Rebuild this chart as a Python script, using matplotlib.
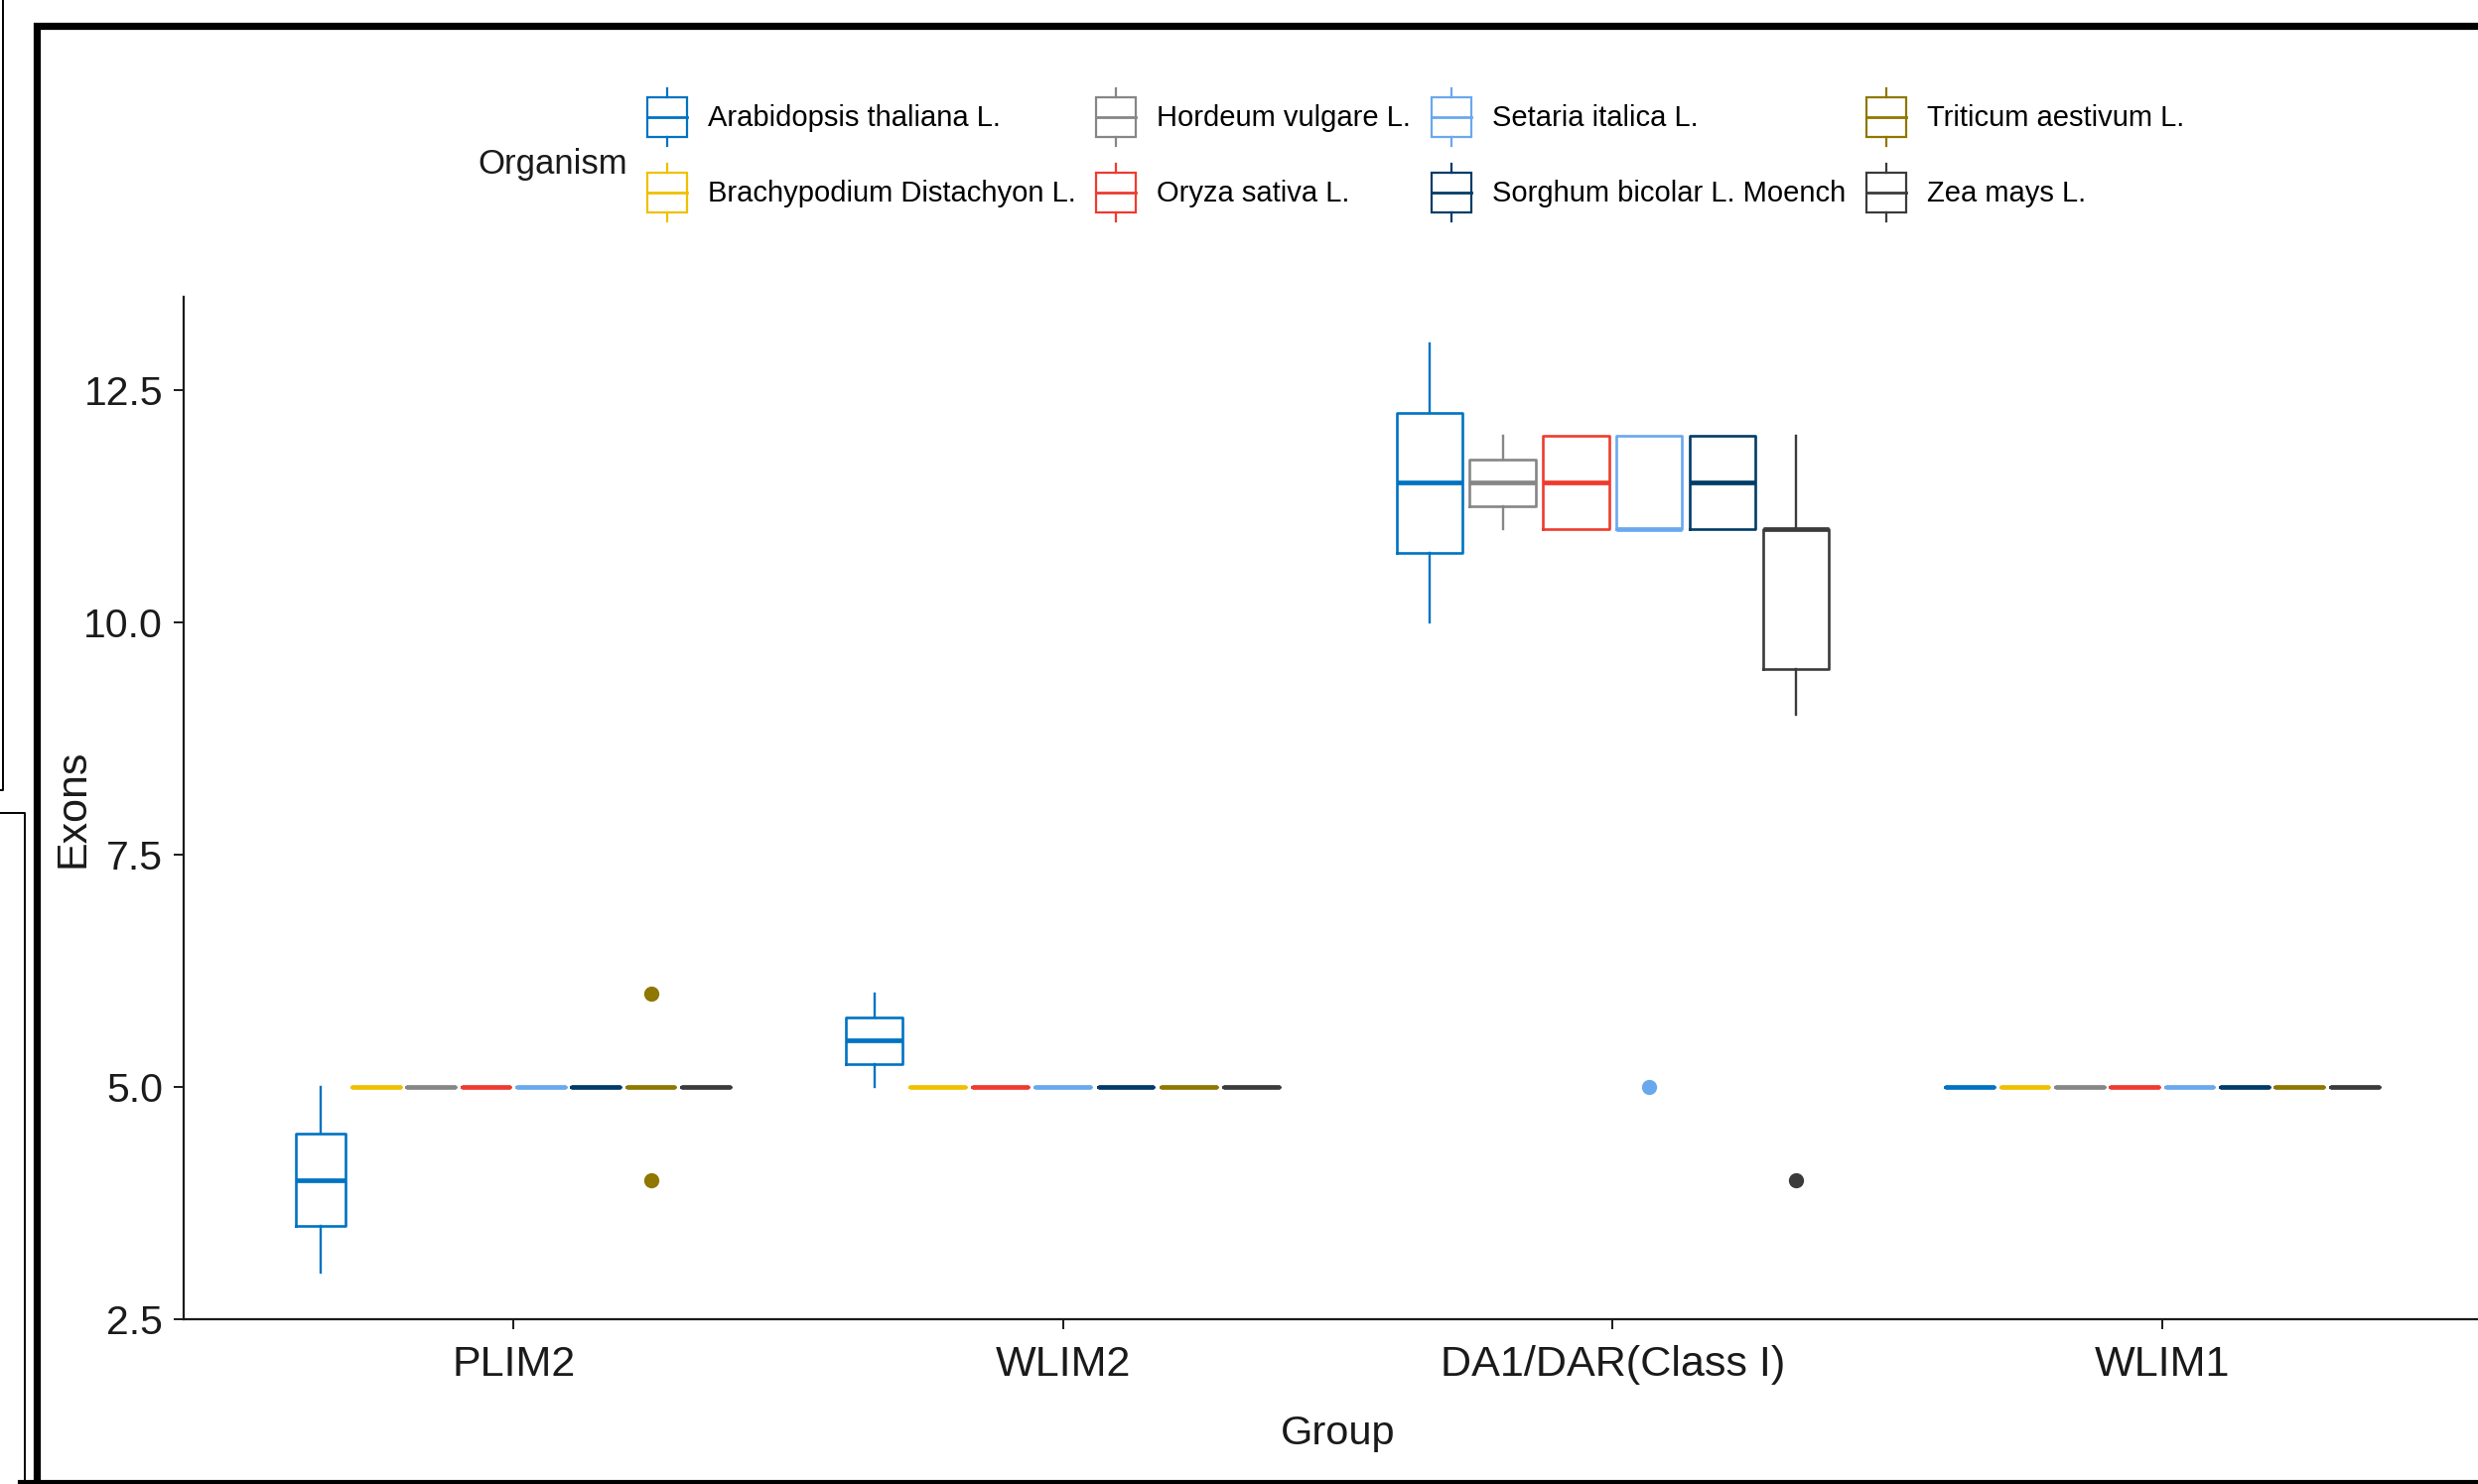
"""
Exon counts per gene group, box plots dodged by organism.
"""
import os
import matplotlib
matplotlib.use('Agg')
import matplotlib.pyplot as plt
from matplotlib import font_manager as fm
from matplotlib.textpath import TextPath
from matplotlib.legend_handler import HandlerBase
from matplotlib.patches import Rectangle, Patch
from matplotlib.lines import Line2D

W, H = 2496, 1495

groups = ['PLIM2', 'WLIM2', 'DA1/DAR(Class I)', 'WLIM1']
organisms = ['Arabidopsis thaliana L.', 'Brachypodium Distachyon L.',
             'Hordeum vulgare L.', 'Oryza sativa L.', 'Setaria italica L.',
             'Sorghum bicolar L. Moench', 'Triticum aestivum L.', 'Zea mays L.']
colors = ['#0073C2', '#EFC000', '#868686', '#EE3B2F',
          '#6AA8EE', '#003C67', '#8F7700', '#3B3B3B']

# (whisker low, q1, median, q3, whisker high) for organisms present in the group
plim2 = {
    'Arabidopsis thaliana L.': (3, 3.5, 4, 4.5, 5),
    'Brachypodium Distachyon L.': (5, 5, 5, 5, 5),
    'Hordeum vulgare L.': (5, 5, 5, 5, 5),
    'Oryza sativa L.': (5, 5, 5, 5, 5),
    'Setaria italica L.': (5, 5, 5, 5, 5),
    'Sorghum bicolar L. Moench': (5, 5, 5, 5, 5),
    'Triticum aestivum L.': (5, 5, 5, 5, 5),
    'Zea mays L.': (5, 5, 5, 5, 5),
}
wlim2 = {
    'Arabidopsis thaliana L.': (5, 5.25, 5.5, 5.75, 6),
    'Brachypodium Distachyon L.': (5, 5, 5, 5, 5),
    'Oryza sativa L.': (5, 5, 5, 5, 5),
    'Setaria italica L.': (5, 5, 5, 5, 5),
    'Sorghum bicolar L. Moench': (5, 5, 5, 5, 5),
    'Triticum aestivum L.': (5, 5, 5, 5, 5),
    'Zea mays L.': (5, 5, 5, 5, 5),
}
da1 = {
    'Arabidopsis thaliana L.': (10, 10.75, 11.5, 12.25, 13),
    'Hordeum vulgare L.': (11, 11.25, 11.5, 11.75, 12),
    'Oryza sativa L.': (11, 11, 11.5, 12, 12),
    'Setaria italica L.': (11, 11, 11, 12, 12),
    'Sorghum bicolar L. Moench': (11, 11, 11.5, 12, 12),
    'Zea mays L.': (9, 9.5, 11, 11, 12),
}
wlim1 = {org: (5, 5, 5, 5, 5) for org in organisms}

# outlier points
plim2_out = {'Triticum aestivum L.': [6, 4]}
wlim2_out = {}
da1_out = {'Setaria italica L.': [5], 'Zea mays L.': [4]}
wlim1_out = {}

group_stats = [plim2, wlim2, da1, wlim1]
group_out = [plim2_out, wlim2_out, da1_out, wlim1_out]


def pick_narrow_font():
    """Look for a condensed sans face; fall back to Liberation Sans."""
    files = {os.path.basename(f.fname): f.fname for f in fm.fontManager.ttflist}
    for name in ['LiberationSansNarrow-Regular.ttf', 'NotoSans-ExtraCondensed.ttf',
                 'NotoSans-Condensed.ttf', 'NotoSans-SemiCondensed.ttf']:
        if name in files:
            return fm.FontProperties(fname=files[name])
    return fm.FontProperties(family='Liberation Sans')


NARROW = pick_narrow_font()
REGULAR = fm.FontProperties(family='Liberation Sans')


def text_px(text, prop, size):
    w100 = TextPath((0, 0), text, size=100, prop=prop).get_extents().width
    return w100 / 100 * size * 100 / 72


def fit_size(text, target_px, cap_px, prop):
    """Compromise between the size matching the width and the cap height."""
    by_width = target_px / text_px(text, prop, 1)
    return (by_width * cap_px) ** 0.5


def sized(prop, size):
    p = prop.copy()
    p.set_size(size)
    return p


xtick_size = fit_size('PLIM2', 97, 38, NARROW)
ytick_size = fit_size('12.5', 60, 37, NARROW)
xlab_size = fit_size('Group', 90, 37, NARROW)
title_size = min(147 / text_px('Organism', NARROW, 1), 40)
leg_size = min(292 / text_px('Arabidopsis thaliana L.', NARROW, 1), 33)


class HandlerBox(HandlerBase):
    """Small boxplot glyph for the legend keys."""
    def create_artists(self, legend, orig_handle, xdescent, ydescent,
                       width, height, fontsize, trans):
        c = orig_handle.get_edgecolor()
        x0, y0 = -xdescent, -ydescent
        bh = 0.69 * height
        by = y0 + (height - bh) / 2
        xm = x0 + width / 2
        box = Rectangle((x0, by), width, bh, facecolor='white',
                        edgecolor=c, lw=1.6, transform=trans)
        med = Line2D([x0, x0 + width], [y0 + height / 2] * 2, color=c,
                     lw=2.0, transform=trans)
        w1 = Line2D([xm, xm], [y0, by], color=c, lw=1.6, transform=trans)
        w2 = Line2D([xm, xm], [by + bh, y0 + height], color=c, lw=1.6,
                    transform=trans)
        return [box, med, w1, w2]


def fx(x):
    return x / W


def fy(y):
    return 1 - y / H


fig = plt.figure(figsize=(W / 100, H / 100), dpi=100)
ax = fig.add_axes([fx(185), fy(1329), (2510 - 185) / W, (1329 - 299) / H])

for gi, (stats, outs) in enumerate(zip(group_stats, group_out)):
    present = [o for o in organisms if o in stats]
    n = len(present)
    step = 0.8 / n
    for k, org in enumerate(present):
        lo, q1, med, q3, hi = stats[org]
        pos = gi + 1 + (k - (n - 1) / 2) * step
        c = colors[organisms.index(org)]
        ax.bxp([dict(whislo=lo, q1=q1, med=med, q3=q3, whishi=hi,
                     fliers=outs.get(org, []))],
               positions=[pos], widths=[0.9 * step], showcaps=False,
               manage_ticks=False,
               boxprops=dict(color=c, lw=1.9),
               whiskerprops=dict(color=c, lw=1.7),
               medianprops=dict(color=c, lw=3.4, solid_capstyle='butt'),
               flierprops=dict(marker='o', markerfacecolor=c,
                               markeredgecolor=c, markersize=10,
                               linestyle='none'))

ax.set_xlim(0.4, 4.6)
ax.set_ylim(2.5, 13.5)
ax.set_xticks(range(1, len(groups) + 1))
ax.set_xticklabels(groups, fontproperties=sized(NARROW, xtick_size),
                   color='#1a1a1a')
ax.set_yticks([2.5, 5.0, 7.5, 10.0, 12.5])
ax.set_yticklabels(['2.5', '5.0', '7.5', '10.0', '12.5'],
                   fontproperties=sized(NARROW, ytick_size), color='#1a1a1a')
ax.tick_params(length=7, width=1.4, pad=8, color='#1a1a1a')
ax.tick_params(axis='x', pad=12)
for side in ['top', 'right']:
    ax.spines[side].set_visible(False)
for side in ['left', 'bottom']:
    ax.spines[side].set_linewidth(1.6)
    ax.spines[side].set_color('#1a1a1a')

ax.set_xlabel('Group', fontproperties=sized(NARROW, xlab_size),
              color='#1a1a1a', va='center')
ax.xaxis.set_label_coords(0.5, (1329 - 1444) / (1329 - 299))
ax.set_ylabel('Exons', fontproperties=sized(REGULAR, 31), color='#1a1a1a',
              va='center')
ax.yaxis.set_label_coords((73 - 185) / (2510 - 185), 0.5)

# legend
fs = leg_size
hh = (41.8 / fs - 0.245) / 0.65
handles = [Patch(facecolor='white', edgecolor=c) for c in colors]
fig.legend(handles, organisms, handler_map={Patch: HandlerBox()},
           loc='upper left', bbox_to_anchor=(fx(652), fy(89)),
           ncol=4, frameon=False, prop=sized(NARROW, fs),
           handlelength=28.8 / fs, handleheight=hh,
           handletextpad=15 / fs, columnspacing=15 / fs,
           labelspacing=(54.7 - 41.8) / fs, borderpad=0, borderaxespad=0)
fig.text(fx(481), fy(175), 'Organism', fontproperties=sized(NARROW, title_size),
         ha='left', va='baseline', color='#1a1a1a')

# screenshot frame and stray panel edges
fig.add_artist(Line2D([fx(36.5), fx(36.5), fx(W + 10)],
                      [fy(H + 10), fy(26), fy(26)], color='black', lw=5.2,
                      solid_joinstyle='miter'))
fig.add_artist(Line2D([fx(20), fx(W + 10)], [fy(1493), fy(1493)],
                      color='black', lw=3))
fig.add_artist(Line2D([fx(3), fx(3), fx(0)], [fy(0), fy(796), fy(796)],
                      color='black', lw=1.4))
fig.add_artist(Line2D([fx(0), fx(25), fx(25)], [fy(819), fy(819), fy(H)],
                      color='black', lw=1.4))

fig.savefig('out.png', dpi=100)
